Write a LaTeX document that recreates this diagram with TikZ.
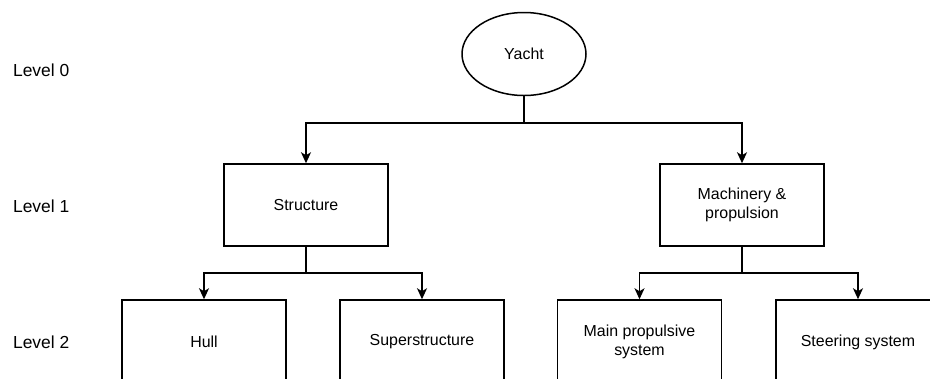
\documentclass[tikz,border=0pt]{standalone}
\usepackage{fontspec}
\setmainfont{Liberation Sans}
\usetikzlibrary{arrows.meta,positioning,shapes.geometric}

\begin{document}
\begin{tikzpicture}[x=1bp, y=-1bp, line width=1.5bp,
  >={Stealth[length=11bp,width=10bp,inset=3bp]},
  font=\fontsize{16}{19}\selectfont,
  part/.style={draw, rectangle, minimum width=164bp, minimum height=83bp, align=center},
  top/.style={draw, ellipse, minimum width=124bp, minimum height=83bp},
  level/.style={anchor=west, font=\fontsize{17.5}{20}\selectfont}]
\useasboundingbox (0,0) rectangle (930,378);
\clip (0,0) rectangle (930,378);
% --- Level labels ---
\node[level] (lev0) at (9,70) {Level 0};
\node[level] (lev1) at (9,206) {Level 1};
\node[level] (lev2) at (9,342) {Level 2};
% --- Level 0 ---
\node[top] (yacht) at (524,54) {Yacht};
% --- Level 1 ---
\node[part, minimum height=82bp] (structure) at (306,205) {Structure};
\node[part, minimum height=82bp] (machinery) at (742,205) {Machinery \&\\propulsion};
% --- Level 2 (cut by the lower edge) ---
\node[part, minimum height=84bp] (hull) at (204,342) {Hull};
\node[part, minimum height=84bp] (superstr) at (422,342) {Superstructure};
\node[part, minimum height=84bp] (mainprop) at (639.5,342) {Main propulsive\\system};
\node[part, minimum height=84bp] (steering) at (858,342) {Steering system};
% junctions
\coordinate (j0) at (524,123);
\coordinate (j1) at (306,273);
\coordinate (j2) at (742,273);
% --- Connectors ---
\draw (yacht.south) -- (j0);
\draw[->] (j0) -| (structure.north);
\draw[->] (j0) -| (machinery.north);
\draw (structure.south) -- (j1);
\draw[->] (j1) -| (hull.north);
\draw[->] (j1) -| (superstr.north);
\draw (machinery.south) -- (j2);
\draw[->] (j2) -| (mainprop.north);
\draw[->] (j2) -| (steering.north);
\end{tikzpicture}
\end{document}
